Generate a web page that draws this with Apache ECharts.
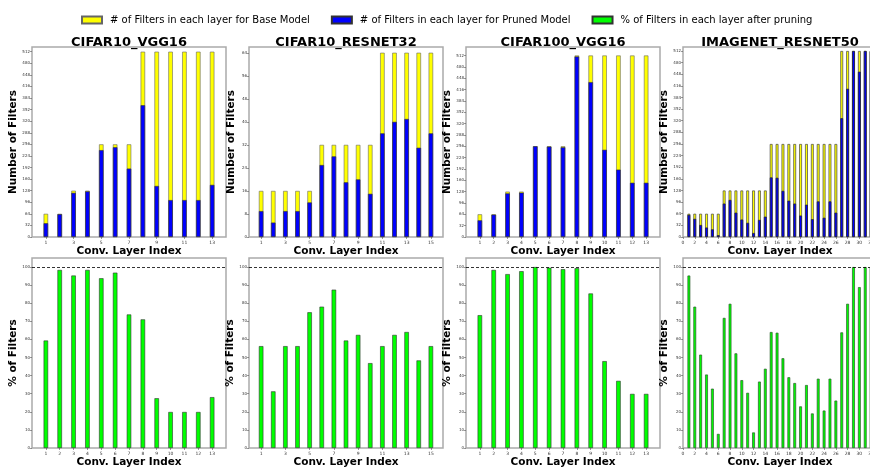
<!DOCTYPE html>
<html>
<head>
<meta charset="utf-8">
<script src="https://cdn.jsdelivr.net/npm/echarts@6/dist/echarts.min.js"></script>
<style>
html, body { margin: 0; padding: 0; background: #fff; }
#chart { width: 870px; height: 470px; }
</style>
</head>
<body>
<div id="chart"></div>
<script>
// model names (panel titles)
const titles = ['CIFAR10_VGG16', 'CIFAR10_RESNET32', 'CIFAR100_VGG16', 'IMAGENET_RESNET50']

// layer indices
const layers13 = [1, 2, 3, 4, 5, 6, 7, 8, 9, 10, 11, 12, 13]
const layers15 = [1, 2, 3, 4, 5, 6, 7, 8, 9, 10, 11, 12, 13, 14, 15]
const layers32 = [1, 2, 3, 4, 5, 6, 7, 8, 9, 10, 11, 12, 13, 14, 15, 16, 17, 18, 19, 20, 21, 22, 23, 24, 25, 26, 27, 28, 29, 30, 31, 32]

// CIFAR10_VGG16
const vgg10Base = [64, 64, 128, 128, 256, 256, 256, 512, 512, 512, 512, 512, 512]
const vgg10Pruned = [38, 63, 122, 126, 240, 248, 189, 364, 141, 102, 102, 102, 144]
const vgg10Pct = [59.4, 98.4, 95.3, 98.4, 93.8, 96.9, 73.8, 71.1, 27.5, 19.9, 19.9, 19.9, 28.1]

// CIFAR10_RESNET32
const res32Base = [16, 16, 16, 16, 16, 32, 32, 32, 32, 32, 64, 64, 64, 64, 64]
const res32Pruned = [9, 5, 9, 9, 12, 25, 28, 19, 20, 15, 36, 40, 41, 31, 36]
const res32Pct = [56.3, 31.3, 56.3, 56.3, 75.0, 78.1, 87.5, 59.4, 62.5, 46.9, 56.3, 62.5, 64.1, 48.4, 56.3]

// CIFAR100_VGG16
const vgg100Base = [64, 64, 128, 128, 256, 256, 256, 512, 512, 512, 512, 512, 512]
const vgg100Pruned = [47, 63, 123, 125, 256, 255, 253, 509, 437, 246, 190, 153, 153]
const vgg100Pct = [73.4, 98.4, 96.1, 97.7, 100, 99.6, 98.8, 99.4, 85.4, 48.0, 37.1, 29.9, 29.9]

// IMAGENET_RESNET50
const res50Base = [64, 64, 64, 64, 64, 64, 128, 128, 128, 128, 128, 128, 128, 128,
    256, 256, 256, 256, 256, 256, 256, 256, 256, 256, 256, 256, 512, 512, 512, 512, 512, 512]
const res50Pruned = [61, 50, 33, 26, 21, 5, 92, 102, 67, 48, 39, 11, 47, 56,
    164, 163, 127, 100, 92, 59, 89, 49, 98, 53, 98, 67, 327, 408, 512, 455, 512, 512]
const res50Pct = [95.3, 78.1, 51.6, 40.6, 32.8, 7.8, 71.9, 79.7, 52.3, 37.5, 30.5, 8.6, 36.7, 43.8,
    64.1, 63.7, 49.6, 39.1, 35.9, 23.0, 34.8, 19.1, 38.3, 20.7, 38.3, 26.2, 63.9, 79.7, 100, 88.9, 100, 100]

// tick labels
const ticksOdd13 = [1, 3, 5, 7, 9, 11, 13]
const ticksOdd15 = [1, 3, 5, 7, 9, 11, 13, 15]
const ticksEven32 = [0, 2, 4, 6, 8, 10, 12, 14, 16, 18, 20, 22, 24, 26, 28, 30, 32]
const ticks512 = [0, 32, 64, 96, 128, 160, 192, 224, 256, 288, 320, 352, 384, 416, 448, 480, 512]
const ticks64 = [0, 8, 16, 24, 32, 40, 48, 56, 64]
const ticksPct = [0, 10, 20, 30, 40, 50, 60, 70, 80, 90, 100]

const legendNames = [
    '# of Filters in each layer for Base Model',
    '# of Filters in each layer for Pruned Model',
    '% of Filters in each layer after pruning'
]

const panels = [
    { layers: layers13, base: vgg10Base, pruned: vgg10Pruned, pct: vgg10Pct, xMax: 14, yMax: 525,
      topTicks: ticksOdd13, botTicks: layers13, yTicks: ticks512 },
    { layers: layers15, base: res32Base, pruned: res32Pruned, pct: res32Pct, xMax: 16, yMax: 66,
      topTicks: ticksOdd15, botTicks: ticksOdd15, yTicks: ticks64 },
    { layers: layers13, base: vgg100Base, pruned: vgg100Pruned, pct: vgg100Pct, xMax: 14, yMax: 536,
      topTicks: layers13, botTicks: layers13, yTicks: ticks512 },
    { layers: layers32, base: res50Base, pruned: res50Pruned, pct: res50Pct, xMax: 33, yMax: 523,
      topTicks: ticksEven32, botTicks: ticksEven32, yTicks: ticks512 }
]

const FONT = 'DejaVu Sans'
const lefts = [32, 249, 466, 683]
const W = 194, H = 190
const topRow = 47, botRow = 258

let grids = [], xAxes = [], yAxes = [], series = [], titleList = []

function xAxisOf(gi, max, ticks) {
    return {
        gridIndex: gi, type: 'value', min: 0, max: max,
        axisLine: { show: false },
        splitLine: { show: false },
        axisTick: { show: true, customValues: ticks, length: 2, lineStyle: { color: '#555', width: 0.6 } },
        axisLabel: { customValues: ticks, fontSize: 4.5, color: '#333', margin: 3, fontFamily: FONT },
        name: 'Conv. Layer Index', nameLocation: 'middle', nameGap: 8,
        nameTextStyle: { fontSize: 10.5, fontWeight: 'bold', color: '#000', fontFamily: FONT, verticalAlign: 'top' }
    }
}

function yAxisOf(gi, max, ticks, name) {
    return {
        gridIndex: gi, type: 'value', min: 0, max: max,
        axisLine: { show: false },
        splitLine: { show: false },
        axisTick: { show: true, customValues: ticks, length: 2, lineStyle: { color: '#555', width: 0.6 } },
        axisLabel: { customValues: ticks, fontSize: 4, color: '#333', margin: 2, fontFamily: FONT },
        name: name, nameLocation: 'middle', nameGap: 12,
        nameTextStyle: { fontSize: 10.5, fontWeight: 'bold', color: '#000', fontFamily: FONT }
    }
}

panels.forEach((p, i) => {
    let bw = i === 3 ? 2.8 : 4.5
    let edge = i === 3 ? '#444' : '#666'
    let ew = i === 3 ? 0.7 : 0.6
    grids[i] = { left: lefts[i], top: topRow, width: W, height: H, show: true, borderColor: '#aaa', borderWidth: 1.5,
        backgroundColor: '#fff', outerBoundsMode: 'none', containLabel: false }
    grids[i + 4] = { left: lefts[i], top: botRow, width: W, height: H, show: true, borderColor: '#aaa', borderWidth: 1.5,
        backgroundColor: '#fff', outerBoundsMode: 'none', containLabel: false }
    xAxes[i] = xAxisOf(i, p.xMax, p.topTicks)
    xAxes[i + 4] = xAxisOf(i + 4, p.xMax, p.botTicks)
    yAxes[i] = yAxisOf(i, p.yMax, p.yTicks, 'Number of Filters')
    yAxes[i + 4] = yAxisOf(i + 4, 105, ticksPct, '% of Filters')

    // title padding pushes the text 5px right, so pull it back
    titleList.push({
        text: titles[i], left: lefts[i] + W / 2 - 5, top: 31, textAlign: 'center',
        textStyle: { fontSize: 13, fontWeight: 'bold', color: '#000', fontFamily: FONT }
    })

    series.push({
        name: legendNames[0], type: 'bar', xAxisIndex: i, yAxisIndex: i,
        barWidth: bw, barGap: '-100%',
        itemStyle: { color: '#ffff00', borderColor: edge, borderWidth: ew },
        data: p.layers.map((l, k) => [l, p.base[k]])
    })
    series.push({
        name: legendNames[1], type: 'bar', xAxisIndex: i, yAxisIndex: i,
        barWidth: bw, barGap: '-100%',
        itemStyle: { color: '#0000ff', borderColor: i === 3 ? '#222' : '#333', borderWidth: ew },
        data: p.layers.map((l, k) => [l, p.pruned[k]])
    })
    series.push({
        name: legendNames[2], type: 'bar', xAxisIndex: i + 4, yAxisIndex: i + 4,
        barWidth: bw,
        itemStyle: { color: '#00ff00', borderColor: i === 3 ? '#2a5a2a' : '#333', borderWidth: ew },
        data: p.layers.map((l, k) => [l, p.pct[k]]),
        markLine: {
            silent: true, symbol: 'none', label: { show: false },
            lineStyle: { type: [3, 2], color: '#000', width: 0.8 },
            data: [{ yAxis: 100 }]
        }
    })
})

let chart = echarts.init(document.getElementById('chart'), null, { renderer: 'canvas' })
chart.setOption({
    animation: false,
    backgroundColor: '#fff',
    title: titleList,
    legend: {
        data: legendNames, left: 76, top: 10,
        itemWidth: 20, itemHeight: 7, itemGap: 21,
        icon: 'rect',
        textStyle: { fontSize: 10, color: '#000', fontFamily: FONT, padding: [0, 0, 0, 3] }
    },
    grid: grids,
    xAxis: xAxes,
    yAxis: yAxes,
    series: series
})
</script>
</body>
</html>
